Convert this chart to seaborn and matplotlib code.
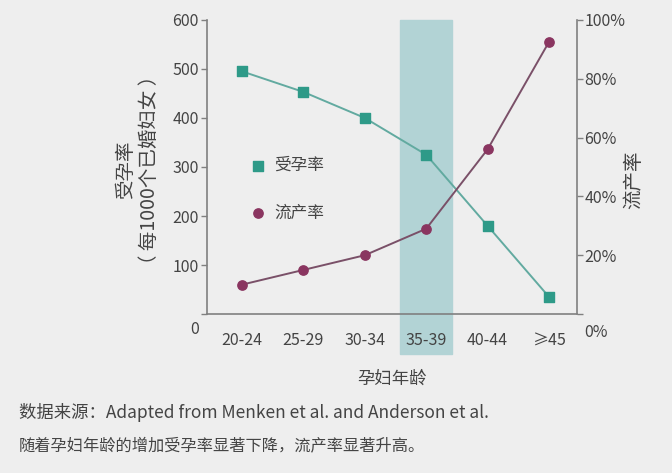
import numpy as np
import pandas as pd
import seaborn as sns
import matplotlib.pyplot as plt
from matplotlib.transforms import ScaledTranslation

# 数据
age_groups = ['20-24', '25-29', '30-34', '35-39', '40-44', '≥45']
pregnancy_rate = [495, 453, 400, 325, 180, 35]      # 每1000个已婚妇女
miscarriage_rate = [10, 15, 20, 29, 56, 92.5]       # %
left_ticks = [0, 100, 200, 300, 400, 500, 600]
right_ticks = [0, 20, 40, 60, 80, 100]
highlight_group = '35-39'

sns.set_theme(style='white')
plt.rcParams['font.family'] = ['Noto Sans CJK SC', 'DejaVu Sans']
bg = '#eeeeee'
spine_c = '#808080'
text_c = '#444444'
teal_line, teal_mark = '#62aaa0', '#2e9a88'
plum_line, plum_mark = '#7a5068', '#8a3560'

df = pd.DataFrame({'age': age_groups, 'preg': pregnancy_rate, 'mis': miscarriage_rate})
df['x'] = np.arange(len(df))

fig = plt.figure(figsize=(6.72, 4.73), dpi=100, facecolor=bg)
ax = fig.add_axes([0.308, 0.336, 0.551, 0.622])
ax.set_facecolor(bg)
ax2 = ax.twinx()

# 35-39 岁高亮区域（延伸到刻度标签下方）
hx = age_groups.index(highlight_group)
ax.axvspan(hx - 0.42, hx + 0.42, ymin=-0.135, ymax=1.0, color='#b2d3d5', zorder=0, clip_on=False)

sns.lineplot(data=df, x='x', y='preg', ax=ax, color=teal_line, lw=1.4, zorder=3)
ax.scatter(df['x'], df['preg'], marker='s', s=60, color=teal_mark, zorder=4)
sns.lineplot(data=df, x='x', y='mis', ax=ax2, color=plum_line, lw=1.4, zorder=3)
ax2.scatter(df['x'], df['mis'], marker='o', s=45, color=plum_mark, zorder=4)

ax.set_xlim(-0.57, 5.46)
ax.set_ylim(0, 600)
ax2.set_ylim(0, 100)
ax.set_xticks(df['x'])
ax.set_xticklabels(age_groups)
ax.set_yticks(left_ticks)
ax2.set_yticks(right_ticks)
ax2.set_yticklabels([f'{t}%' for t in right_ticks])

for a in (ax, ax2):
    for s in a.spines.values():
        s.set_visible(False)
ax.spines['left'].set_visible(True)
ax.spines['bottom'].set_visible(True)
ax2.spines['right'].set_visible(True)
for s in (ax.spines['left'], ax.spines['bottom'], ax2.spines['right']):
    s.set_color(spine_c)
    s.set_linewidth(1.2)

ax.tick_params(axis='y', length=4, width=1, color=spine_c, labelsize=11.5, labelcolor=text_c, pad=2)
ax2.tick_params(axis='y', length=4, width=1, color=spine_c, labelsize=11.5, labelcolor=text_c, pad=1)
ax.tick_params(axis='x', length=0, labelsize=11.5, labelcolor=text_c, pad=13)

# “0” 和 “0%” 标签在轴线下方
ax.get_yticklabels()[0].set_transform(ax.get_yticklabels()[0].get_transform() + ScaledTranslation(0, -0.13, fig.dpi_scale_trans))
ax2.get_yticklabels()[0].set_transform(ax2.get_yticklabels()[0].get_transform() + ScaledTranslation(0, -0.16, fig.dpi_scale_trans))

ax.set_xlabel('孕妇年龄', fontsize=12.5, color=text_c, labelpad=15)
ax.set_ylabel('受孕率\n（ 每1000个已婚妇女 ）', fontsize=14, color=text_c, linespacing=1.2)
ax.yaxis.set_label_coords(-0.127, 0.49)
ax2.set_ylabel('流产率', fontsize=14, color=text_c, rotation=90)
ax2.yaxis.set_label_coords(1.125, 0.455)

# 图例
ax.scatter([], [], marker='s', s=60, color=teal_mark, label='受孕率')
ax.scatter([], [], marker='o', s=45, color=plum_mark, label='流产率')
handles, labels = ax.get_legend_handles_labels()
ax.legend(handles[-2:], labels[-2:], loc='upper left', bbox_to_anchor=(0.074, 0.585), frameon=False,
          fontsize=12, labelcolor=text_c, handlelength=1.0, handletextpad=0.5, labelspacing=1.85)

fig.text(0.028, 0.128, '数据来源：Adapted from Menken et al. and Anderson et al.', fontsize=12.5, color=text_c, va='center')
fig.text(0.028, 0.058, '随着孕妇年龄的增加受孕率显著下降，流产率显著升高。', fontsize=11.7, color=text_c, va='center')

fig.savefig('out.png', dpi=100, facecolor=bg)
